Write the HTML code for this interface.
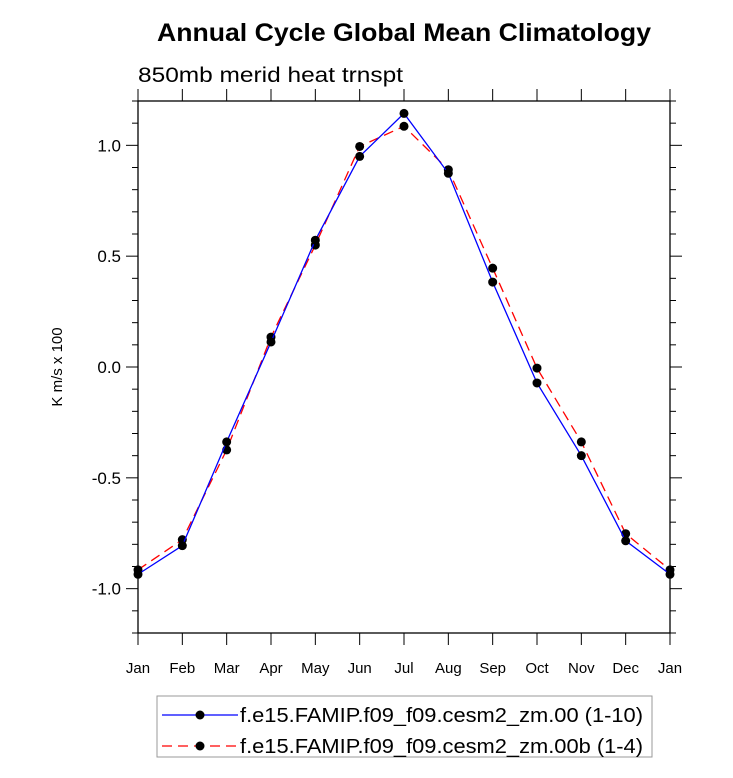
<!DOCTYPE html>
<html><head><meta charset="utf-8"><style>
body{margin:0;background:#fff}
svg text{font-family:"Liberation Sans",sans-serif}
</style></head><body>
<svg id="c" width="733" height="773" xmlns="http://www.w3.org/2000/svg">
<text x="157" y="41" font-size="25" font-weight="bold" textLength="494" lengthAdjust="spacingAndGlyphs">Annual Cycle Global Mean Climatology</text>
<text x="138" y="82" font-size="21" textLength="265" lengthAdjust="spacingAndGlyphs">850mb merid heat trnspt</text>
<text transform="translate(62,367) rotate(-90)" text-anchor="middle" font-size="15">K m/s x 100</text>
<g id="axes"></g><g id="series"></g>
<g>
<rect x="157" y="696" width="495" height="61" fill="#fff" stroke="#999" stroke-width="1"/>
<g>
<line x1="162" y1="715" x2="238" y2="715" stroke="#00f" stroke-width="1.3"/><circle cx="200" cy="715" r="4.5"/>
<text x="240" y="722" font-size="20" textLength="403" lengthAdjust="spacingAndGlyphs">f.e15.FAMIP.f09_f09.cesm2_zm.00 (1-10)</text></g>
<g>
<line x1="162" y1="746" x2="238" y2="746" stroke="#f00" stroke-width="1.3" stroke-dasharray="10,6"/><circle cx="200" cy="746" r="4.5"/>
<text x="240" y="753" font-size="20" textLength="403" lengthAdjust="spacingAndGlyphs">f.e15.FAMIP.f09_f09.cesm2_zm.00b (1-4)</text></g>
</g>
</svg>
<script>
const months=["Jan","Feb","Mar","Apr","May","Jun","Jul","Aug","Sep","Oct","Nov","Dec","Jan"];
const blueVals=[-0.935,-0.806,-0.338,0.113,0.572,0.95,1.144,0.874,0.383,-0.072,-0.40,-0.784,-0.935];
const redVals=[-0.915,-0.779,-0.374,0.135,0.55,0.995,1.086,0.89,0.446,-0.005,-0.338,-0.752,-0.915];
const yTicks=[-1.0,-0.5,0.0,0.5,1.0];
const yTickLabels=["-1.0","-0.5","0.0","0.5","1.0"];
const L=138,R=670,T=101,B=633,ymin=-1.2,ymax=1.2;
const X=i=>L+(R-L)*i/(months.length-1);
const Y=v=>B-(v-ymin)/(ymax-ymin)*(B-T);
const NS="http://www.w3.org/2000/svg";
function mk(t,a,p){const e=document.createElementNS(NS,t);for(const k in a)e.setAttribute(k,a[k]);p.appendChild(e);return e;}
const ax=document.getElementById('axes');
const fr=mk('rect',{x:L,y:T,width:R-L,height:B-T,fill:'none',stroke:'#000','stroke-width':1.3},ax);


for(let i=0;i<months.length;i++){
 const x=X(i);
 mk('line',{x1:x,y1:B,x2:x,y2:B+12,stroke:'#000'},ax);
 mk('line',{x1:x,y1:T,x2:x,y2:T-12,stroke:'#000'},ax);
 const t=mk('text',{x:x,y:B+40,'text-anchor':'middle','font-size':15},ax);t.textContent=months[i];
 
 
}
for(let k=-12;k<=12;k++){
 const v=k/10,y=Y(v),maj=(k%5===0),len=maj?12:6;
 mk('line',{x1:L,y1:y,x2:L-len,y2:y,stroke:'#000'},ax);
 mk('line',{x1:R,y1:y,x2:R+len,y2:y,stroke:'#000'},ax);
}
yTicks.forEach((v,i)=>{
 const t=mk('text',{x:L-17,y:Y(v)+6,'text-anchor':'end','font-size':17},ax);t.textContent=yTickLabels[i];
 
 
});
const sg=document.getElementById('series');
function series(vals,color,dash,name){
 const g=mk('g',{},sg);
 
 
 const a={points:vals.map((v,i)=>X(i)+','+Y(v)).join(' '),fill:'none',stroke:color,'stroke-width':1.3};
 if(dash)a['stroke-dasharray']=dash;
 mk('polyline',a,g);
 vals.forEach((v,i)=>{const c=mk('circle',{cx:X(i),cy:Y(v),r:4.5},g);
  
  });
}
series(redVals,'#f00','10,6','series-00b');
series(blueVals,'#00f',null,'series-00');
</script>
</body></html>
